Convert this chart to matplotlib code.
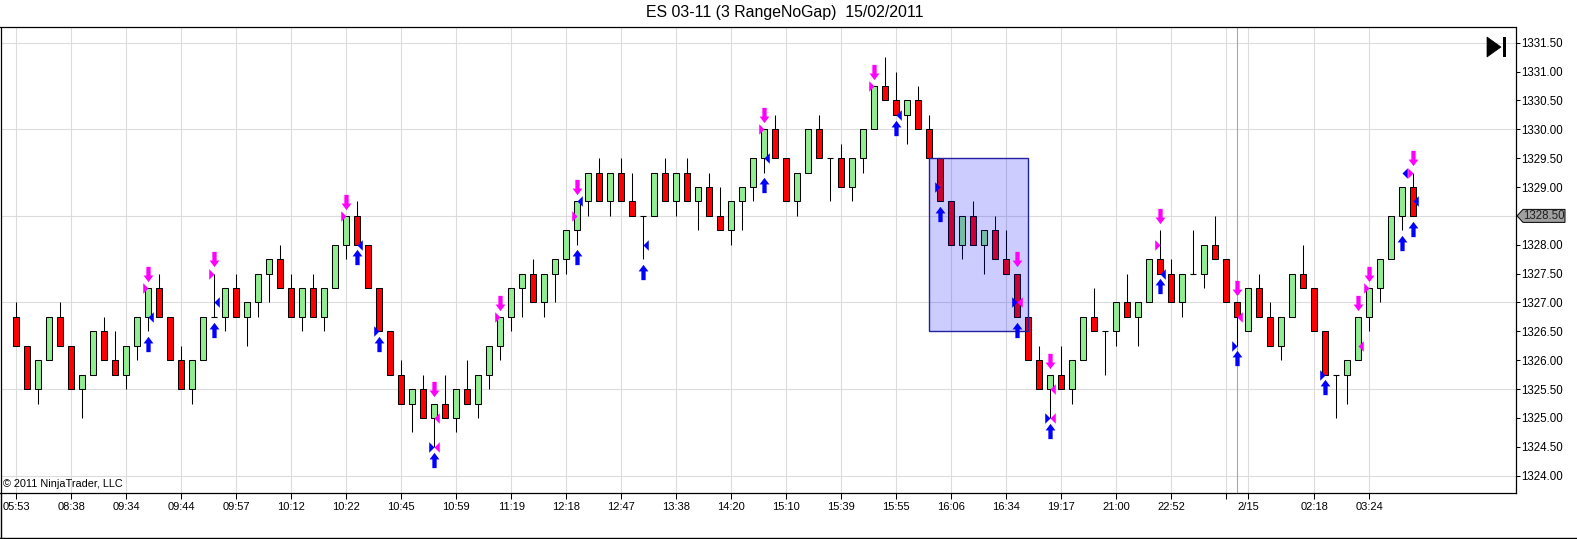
import matplotlib
matplotlib.use("Agg")
import matplotlib.pyplot as plt
import numpy as np
from matplotlib.path import Path
from matplotlib.patches import Rectangle, Polygon

plt.rcParams['font.family'] = ['Liberation Sans', 'DejaVu Sans']

# ES 03-11, 3-tick range bars (open, high, low, close)
opens = [1326.75, 1326.25, 1325.5, 1326.0, 1326.75, 1326.25, 1325.5, 1325.75, 1326.5, 1326.0,
         1325.75, 1326.25, 1326.75, 1327.25, 1326.75, 1326.0, 1325.5, 1326.0, 1326.75, 1326.75,
         1327.25, 1326.75, 1327.0, 1327.5, 1327.75, 1327.25, 1326.75, 1327.25, 1326.75, 1327.25,
         1328.0, 1328.5, 1328.0, 1327.25, 1326.5, 1325.75, 1325.25, 1325.5, 1325.0, 1325.25,
         1325.0, 1325.5, 1325.25, 1325.75, 1326.25, 1326.75, 1327.25, 1327.5, 1327.0, 1327.5,
         1327.75, 1328.25, 1328.75, 1329.25, 1328.75, 1329.25, 1328.75, 1328.5, 1328.5, 1329.25,
         1328.75, 1329.25, 1328.75, 1329.0, 1328.5, 1328.25, 1328.75, 1329.0, 1329.5, 1330.0,
         1329.5, 1328.75, 1329.25, 1330.0, 1329.5, 1329.5, 1329.0, 1329.5, 1330.0, 1330.75,
         1330.5, 1330.25, 1330.5, 1330.0, 1329.5, 1328.75, 1328.0, 1328.5, 1328.0, 1328.25,
         1327.75, 1327.5, 1326.75, 1326.0, 1325.5, 1325.75, 1325.5, 1326.0, 1326.75, 1326.5,
         1326.5, 1327.0, 1326.75, 1327.0, 1327.75, 1327.5, 1327.0, 1327.5, 1327.5, 1328.0,
         1327.75, 1327.0, 1326.5, 1327.25, 1326.75, 1326.25, 1326.75, 1327.5, 1327.25, 1326.5,
         1325.75, 1325.75, 1326.0, 1326.75, 1327.25, 1327.75, 1328.5, 1329.0]
highs = [1327.0, 1326.25, 1326.0, 1326.75, 1327.0, 1326.25, 1325.75, 1326.5, 1326.75, 1326.5,
         1326.25, 1326.75, 1327.25, 1327.5, 1326.75, 1326.25, 1326.0, 1326.75, 1327.5, 1327.25,
         1327.5, 1327.0, 1327.5, 1327.75, 1328.0, 1327.5, 1327.25, 1327.5, 1327.25, 1328.0,
         1328.5, 1328.75, 1328.0, 1327.25, 1326.5, 1326.0, 1325.5, 1325.75, 1325.25, 1325.75,
         1325.5, 1326.0, 1325.75, 1326.25, 1326.75, 1327.25, 1327.5, 1327.75, 1327.5, 1327.75,
         1328.25, 1328.75, 1329.25, 1329.5, 1329.25, 1329.5, 1329.25, 1328.5, 1329.25, 1329.5,
         1329.25, 1329.5, 1329.0, 1329.25, 1329.0, 1328.75, 1329.0, 1329.5, 1330.0, 1330.25,
         1329.5, 1329.25, 1330.0, 1330.25, 1329.5, 1329.75, 1329.5, 1330.0, 1330.75, 1331.25,
         1331.0, 1330.5, 1330.75, 1330.25, 1329.5, 1328.75, 1328.5, 1328.75, 1328.25, 1328.5,
         1328.25, 1327.5, 1326.75, 1326.25, 1325.75, 1326.25, 1326.0, 1326.75, 1327.25, 1326.5,
         1327.0, 1327.5, 1327.0, 1327.75, 1328.25, 1327.75, 1327.5, 1328.25, 1328.0, 1328.5,
         1327.75, 1327.0, 1327.25, 1327.5, 1327.0, 1326.75, 1327.5, 1328.0, 1327.25, 1326.5,
         1325.75, 1326.0, 1326.75, 1327.25, 1327.75, 1328.5, 1329.0, 1329.25]
lows = [1326.25, 1325.5, 1325.25, 1326.0, 1326.25, 1325.5, 1325.0, 1325.75, 1326.0, 1325.75,
        1325.5, 1326.0, 1326.5, 1326.75, 1326.0, 1325.5, 1325.25, 1326.0, 1326.75, 1326.5,
        1326.75, 1326.25, 1326.75, 1327.0, 1327.25, 1326.75, 1326.5, 1326.75, 1326.5, 1327.25,
        1327.75, 1328.0, 1327.25, 1326.5, 1325.75, 1325.25, 1324.75, 1325.0, 1324.5, 1325.0,
        1324.75, 1325.25, 1325.0, 1325.5, 1326.0, 1326.5, 1326.75, 1327.0, 1326.75, 1327.0,
        1327.5, 1328.0, 1328.5, 1328.75, 1328.5, 1328.75, 1328.5, 1327.75, 1328.5, 1328.75,
        1328.5, 1328.75, 1328.25, 1328.5, 1328.25, 1328.0, 1328.25, 1328.75, 1329.25, 1329.5,
        1328.75, 1328.5, 1329.25, 1329.5, 1328.75, 1329.0, 1328.75, 1329.25, 1330.0, 1330.5,
        1330.25, 1329.75, 1330.0, 1329.5, 1328.75, 1328.0, 1327.75, 1328.0, 1327.5, 1327.75,
        1327.5, 1326.75, 1326.0, 1325.5, 1325.0, 1325.5, 1325.25, 1326.0, 1326.5, 1325.75,
        1326.25, 1326.75, 1326.25, 1327.0, 1327.5, 1327.0, 1326.75, 1327.5, 1327.25, 1327.75,
        1327.0, 1326.25, 1326.5, 1326.75, 1326.25, 1326.0, 1326.75, 1327.25, 1326.5, 1325.75,
        1325.0, 1325.25, 1326.0, 1326.5, 1327.0, 1327.75, 1328.25, 1328.5]
closes = [1326.25, 1325.5, 1326.0, 1326.75, 1326.25, 1325.5, 1325.75, 1326.5, 1326.0, 1325.75,
          1326.25, 1326.75, 1327.25, 1326.75, 1326.0, 1325.5, 1326.0, 1326.75, 1326.75, 1327.25,
          1326.75, 1327.0, 1327.5, 1327.75, 1327.25, 1326.75, 1327.25, 1326.75, 1327.25, 1328.0,
          1328.5, 1328.0, 1327.25, 1326.5, 1325.75, 1325.25, 1325.5, 1325.0, 1325.25, 1325.0,
          1325.5, 1325.25, 1325.75, 1326.25, 1326.75, 1327.25, 1327.5, 1327.0, 1327.5, 1327.75,
          1328.25, 1328.75, 1329.25, 1328.75, 1329.25, 1328.75, 1328.5, 1328.5, 1329.25, 1328.75,
          1329.25, 1328.75, 1329.0, 1328.5, 1328.25, 1328.75, 1329.0, 1329.5, 1330.0, 1329.5,
          1328.75, 1329.25, 1330.0, 1329.5, 1329.5, 1329.0, 1329.5, 1330.0, 1330.75, 1330.5,
          1330.25, 1330.5, 1330.0, 1329.5, 1328.75, 1328.0, 1328.5, 1328.0, 1328.25, 1327.75,
          1327.5, 1326.75, 1326.0, 1325.5, 1325.75, 1325.5, 1326.0, 1326.75, 1326.5, 1326.5,
          1327.0, 1326.75, 1327.0, 1327.75, 1327.5, 1327.0, 1327.5, 1327.5, 1328.0, 1327.75,
          1327.0, 1326.75, 1327.25, 1326.75, 1326.25, 1326.75, 1327.5, 1327.25, 1326.5, 1325.75,
          1325.75, 1326.0, 1326.75, 1327.25, 1327.75, 1328.5, 1329.0, 1328.5]

tick_bars = list(range(0, 111, 5)) + [112, 118, 123]
tick_labels = ['05:53', '08:38', '09:34', '09:44', '09:57', '10:12', '10:22', '10:45',
               '10:59', '11:19', '12:18', '12:47', '13:38', '14:20', '15:10', '15:39',
               '15:55', '16:06', '16:34', '19:17', '21:00', '22:52', '', '2/15',
               '02:18', '03:24']
session_break = 111
grid_prices = [1324.0, 1325.5, 1327.0, 1328.5, 1330.0, 1331.5]

# signal markers
sell_arrow_bars = [12, 18, 30, 38, 44, 51, 68, 78, 91, 94, 104, 111, 122, 123, 127]
buy_arrow_bars = [12, 18, 31, 33, 38, 51, 57, 68, 80, 84, 91, 94, 104, 111, 119, 126, 127]
mag_right_bars = [12, 18, 30, 44, 51, 68, 78, 104, 123, 127]
mag_right_px = [1327.25, 1327.5, 1328.5, 1326.75, 1328.5, 1330.0, 1330.75, 1328.0, 1327.25, 1329.25]
mag_left_bars = [38, 38, 91, 94, 94, 111, 122]
mag_left_px = [1325.0, 1324.5, 1327.0, 1325.5, 1325.0, 1326.75, 1326.25]
blue_right_bars = [33, 38, 84, 91, 94, 111, 119]
blue_right_px = [1326.5, 1324.5, 1329.0, 1327.0, 1325.0, 1326.25, 1325.75]
blue_left_bars = [12, 18, 31, 51, 57, 68, 80, 104, 126, 127]
blue_left_px = [1326.75, 1327.0, 1328.0, 1328.75, 1328.0, 1329.5, 1330.25, 1327.5, 1329.25, 1328.75]

# drawn rectangle
box_bars = (83, 92)
box_prices = (1326.5, 1329.5)

W, H = 1577, 539
def fx(x):
    return x / W
def fy(y):
    return 1 - y / H

fig = plt.figure(figsize=(W / 100, H / 100), dpi=100)
ax = fig.add_axes([fx(0.5), fy(493), fx(1516) - fx(0.5), fy(27.5) - fy(493)])
ax.set_xlim(-1.436, 136.34)
ax.set_ylim(1323.70, 1331.763)

o = np.array(opens); h = np.array(highs); l = np.array(lows); c = np.array(closes)
x = np.arange(len(o))

# grid
for p in grid_prices:
    ax.axhline(p, color='#dcdcdc', lw=0.8, zorder=0)
for b in tick_bars:
    ax.axvline(b, color='#dcdcdc', lw=0.8, zorder=0)
ax.axvline(session_break, color='#a8a8a8', lw=0.8, zorder=0)

# candles
ax.vlines(x, l, h, color='black', lw=0.75, zorder=2)
up = c > o
dn = c < o
flat = c == o
bw = 0.58
ax.bar(x[up], (c - o)[up], bottom=o[up], width=bw, color='#90ee90', edgecolor='black', lw=0.75, zorder=3)
ax.bar(x[dn], (o - c)[dn], bottom=c[dn], width=bw, color='#ff0000', edgecolor='black', lw=0.75, zorder=3)
ax.hlines(o[flat], x[flat] - bw / 2, x[flat] + bw / 2, color='black', lw=0.8, zorder=3)

# rectangle drawing object
ax.add_patch(Rectangle((box_bars[0], box_prices[0]), box_bars[1] - box_bars[0],
                       box_prices[1] - box_prices[0], facecolor=(0, 0, 1, 0.2),
                       edgecolor='#2222a0', lw=1.0, zorder=4))

# markers
up_arrow = Path([(0, 1), (0.64, 0.14), (0.28, 0.14), (0.28, -1), (-0.28, -1), (-0.28, 0.14),
                 (-0.64, 0.14), (0, 1)], closed=True)
down_arrow = Path([(vx, -vy) for vx, vy in up_arrow.vertices], closed=True)
tri_r = Path([(0, 0), (-1, 1), (-1, -1), (0, 0)], closed=True)
tri_l = Path([(0, 0), (1, 1), (1, -1), (0, 0)], closed=True)

mag = '#ff00ff'
blue = '#0000ff'
sb = np.array(sell_arrow_bars)
bb = np.array(buy_arrow_bars)
ax.plot(sb, h[sb] + 0.245, ls='none', marker=down_arrow, ms=11, color=mag, mew=0, zorder=6)
ax.plot(bb, l[bb] - 0.22, ls='none', marker=up_arrow, ms=11, color=blue, mew=0, zorder=6)
ax.plot(mag_right_bars, mag_right_px, ls='none', marker=tri_r, ms=7.6, color=mag, mew=0, zorder=6)
ax.plot(mag_left_bars, mag_left_px, ls='none', marker=tri_l, ms=7.6, color=mag, mew=0, zorder=6)
ax.plot(blue_right_bars, blue_right_px, ls='none', marker=tri_r, ms=7.6, color=blue, mew=0, zorder=6)
ax.plot(blue_left_bars, blue_left_px, ls='none', marker=tri_l, ms=7.6, color=blue, mew=0, zorder=6)

# axes styling
for s in ax.spines.values():
    s.set_color('black')
    s.set_linewidth(0.9)
ax.set_xticks(tick_bars)
ax.set_xticklabels(tick_labels)
yt = np.arange(1324.0, 1331.51, 0.5)
ax.set_yticks(yt)
last = closes[-1]
ax.set_yticklabels(['' if abs(v - last) < 1e-9 else '%.2f' % v for v in yt])
ax.yaxis.tick_right()
ax.tick_params(axis='x', direction='out', length=4, width=0.75, labelsize=8, pad=2.5, colors='black')
ax.tick_params(axis='y', direction='out', length=3, width=0.75, labelsize=8.3, pad=1, colors='black')

# last price tag
fig.canvas.draw()
ty = fig.transFigure.inverted().transform(ax.transData.transform((0, last)))[1]
ty_px = (1 - ty) * H
tag = Polygon([(fx(1517), fy(ty_px)), (fx(1523), fy(ty_px - 6.5)), (fx(1565), fy(ty_px - 6.5)),
               (fx(1565), fy(ty_px + 6.5)), (fx(1523), fy(ty_px + 6.5))], closed=True,
              transform=fig.transFigure, facecolor='#a0a0a0', edgecolor='black', lw=0.7)
fig.add_artist(tag)
fig.text(fx(1544), fy(ty_px), '%.2f' % last, ha='center', va='center', fontsize=8.3, color='#202020')

# title, copyright, scroll icon
fig.text(fx(785), fy(13), 'ES 03-11 (3 RangeNoGap)  15/02/2011', ha='center', va='center', fontsize=11.4)
fig.text(fx(3), fy(484), '\u00a9 2011 NinjaTrader, LLC', ha='left', va='center', fontsize=7.8)
fig.add_artist(Polygon([(fx(1487), fy(37)), (fx(1487), fy(57)), (fx(1501), fy(47))], closed=True,
                       transform=fig.transFigure, facecolor='black', edgecolor='black', lw=0.5))
fig.add_artist(Rectangle((fx(1503), fy(57)), fx(3), fy(37) - fy(57), transform=fig.transFigure,
                         facecolor='black', edgecolor='none'))

# outer frame pieces
fig.add_artist(plt.Line2D([0, 1], [fy(538), fy(538)], transform=fig.transFigure, color='black', lw=1))
fig.add_artist(plt.Line2D([fx(0.5), fx(0.5)], [fy(493), fy(538)], transform=fig.transFigure, color='black', lw=1))

fig.savefig('out.png', dpi=100)
